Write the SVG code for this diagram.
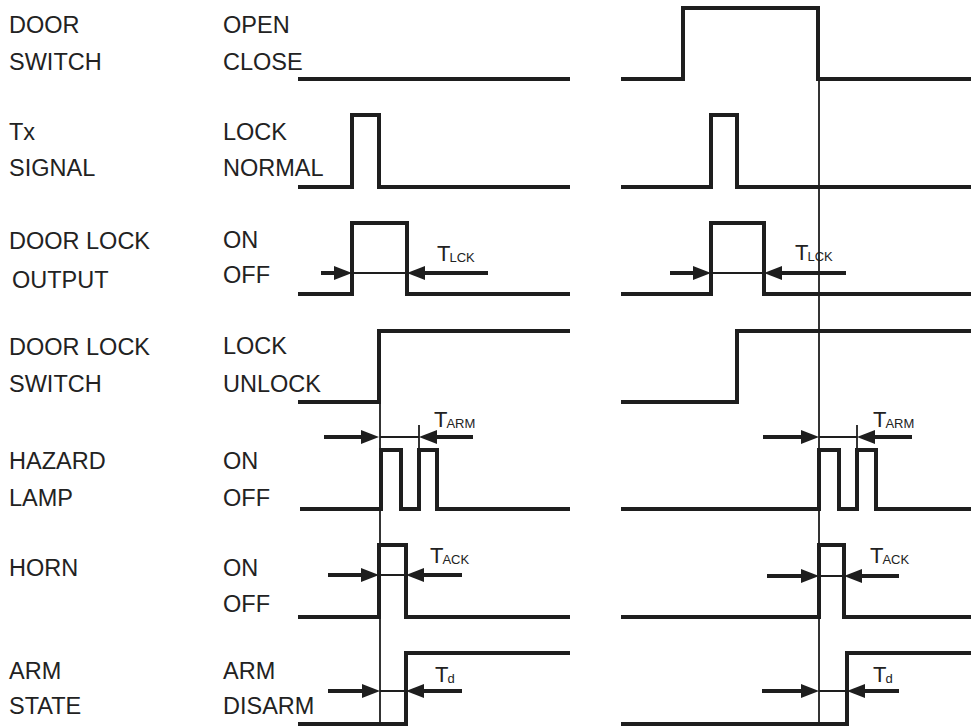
<svg xmlns="http://www.w3.org/2000/svg" width="971" height="727" viewBox="0 0 971 727">
<style>
text{font-family:"Liberation Sans",Arial,Helvetica,sans-serif;fill:#222;}
.lbl{font-size:23.5px;}
.t{font-size:22px;}
.sub{font-size:13px;}
.wave{fill:none;stroke:#1e1e1e;stroke-width:4;stroke-linejoin:miter;}
.thin{fill:none;stroke:#1e1e1e;stroke-width:1.8;}
.arr{fill:none;stroke:#1e1e1e;stroke-width:4;marker-end:url(#ah);}
</style>
<defs>
<marker id="ah" markerUnits="userSpaceOnUse" markerWidth="20" markerHeight="16" refX="9" refY="7" orient="auto">
<path d="M0,0 L18,7 L0,14 Z" fill="#1e1e1e"/>
</marker>
</defs>
<rect width="971" height="727" fill="#fff"/>

<g id="door-switch">
<text class="lbl" x="9" y="33">DOOR</text>
<text class="lbl" x="9" y="70">SWITCH</text>
<text class="lbl" x="223" y="33">OPEN</text>
<text class="lbl" x="223" y="70">CLOSE</text>
<path class="wave" d="M298,79 H570"/>
<path class="wave" d="M621,79 H683 V8 H818 V79 H971"/>
</g>

<g id="tx-signal">
<text class="lbl" x="9" y="140">Tx</text>
<text class="lbl" x="9" y="176">SIGNAL</text>
<text class="lbl" x="223" y="140">LOCK</text>
<text class="lbl" x="223" y="176">NORMAL</text>
<path class="wave" d="M298,187 H352 V115 H379 V187 H570"/>
<path class="wave" d="M621,187 H711 V115 H737 V187 H971"/>
</g>

<g id="door-lock-output">
<text class="lbl" x="9" y="249">DOOR LOCK</text>
<text class="lbl" x="12" y="288">OUTPUT</text>
<text class="lbl" x="223" y="248">ON</text>
<text class="lbl" x="223" y="283">OFF</text>
<path class="wave" d="M298,294 H352 V223 H407 V294 H570"/>
<path class="wave" d="M621,294 H711 V223 H764 V294 H971"/>
<text class="t" x="437" y="261">T<tspan class="sub" dx="-1" dy="1">LCK</tspan></text>
<text class="t" x="795" y="260">T<tspan class="sub" dx="-1" dy="1">LCK</tspan></text>
</g>

<g id="door-lock-switch">
<text class="lbl" x="9" y="355">DOOR LOCK</text>
<text class="lbl" x="9" y="392">SWITCH</text>
<text class="lbl" x="223" y="354">LOCK</text>
<text class="lbl" x="223" y="392">UNLOCK</text>
<path class="wave" d="M298,402 H379 V331 H570"/>
<path class="wave" d="M621,402 H737 V331 H971"/>
</g>

<g id="hazard-lamp">
<text class="lbl" x="9" y="469">HAZARD</text>
<text class="lbl" x="9" y="506">LAMP</text>
<text class="lbl" x="223" y="469">ON</text>
<text class="lbl" x="223" y="506">OFF</text>
<path class="wave" d="M300,509 H381 V450 H401 V509 H419 V450 H437 V509 H570"/>
<path class="wave" d="M621,509 H819 V450 H839 V509 H857 V450 H876 V509 H971"/>
<text class="t" x="434" y="427">T<tspan class="sub" dx="-1" dy="1">ARM</tspan></text>
<text class="t" x="873" y="427">T<tspan class="sub" dx="-1" dy="1">ARM</tspan></text>
</g>

<g id="horn">
<text class="lbl" x="9" y="576">HORN</text>
<text class="lbl" x="223" y="576">ON</text>
<text class="lbl" x="223" y="612">OFF</text>
<path class="wave" d="M298,617 H379 V545 H406 V617 H570"/>
<path class="wave" d="M621,617 H819 V545 H844 V617 H971"/>
<text class="t" x="430" y="563">T<tspan class="sub" dx="-1" dy="1">ACK</tspan></text>
<text class="t" x="870" y="563">T<tspan class="sub" dx="-1" dy="1">ACK</tspan></text>
</g>

<g id="arm-state">
<text class="lbl" x="9" y="679">ARM</text>
<text class="lbl" x="9" y="714">STATE</text>
<text class="lbl" x="223" y="679">ARM</text>
<text class="lbl" x="223" y="714">DISARM</text>
<path class="wave" d="M298,724 H406 V653 H570"/>
<path class="wave" d="M621,724 H847 V653 H971"/>
<text class="t" x="435" y="682">T<tspan class="sub" dx="-1" dy="1">d</tspan></text>
<text class="t" x="873" y="682">T<tspan class="sub" dx="-1" dy="1">d</tspan></text>
</g>

<g id="connectors">
<path class="thin" d="M380,331 V724"/>
<path class="thin" d="M819,79 V724"/>
<path class="thin" d="M419,425 V450"/>
<path class="thin" d="M857,425 V450"/>
<path class="thin" d="M352,273 H407 M711,273 H764 M380,437 H419 M819,437 H857 M380,575 H406 M819,576 H844 M380,691 H406 M819,691 H847"/>
<path class="arr" d="M321,273 H343"/>
<path class="arr" d="M488,273 H416"/>
<path class="arr" d="M670,273 H702"/>
<path class="arr" d="M846,273 H773"/>
<path class="arr" d="M324,437 H370"/>
<path class="arr" d="M473,437 H428"/>
<path class="arr" d="M763,437 H810"/>
<path class="arr" d="M912,437 H866"/>
<path class="arr" d="M328,575 H370"/>
<path class="arr" d="M462,575 H415"/>
<path class="arr" d="M767,576 H810"/>
<path class="arr" d="M899,576 H853"/>
<path class="arr" d="M328,691 H371"/>
<path class="arr" d="M462,691 H415"/>
<path class="arr" d="M762,691 H810"/>
<path class="arr" d="M899,691 H856"/>
</g>
</svg>
